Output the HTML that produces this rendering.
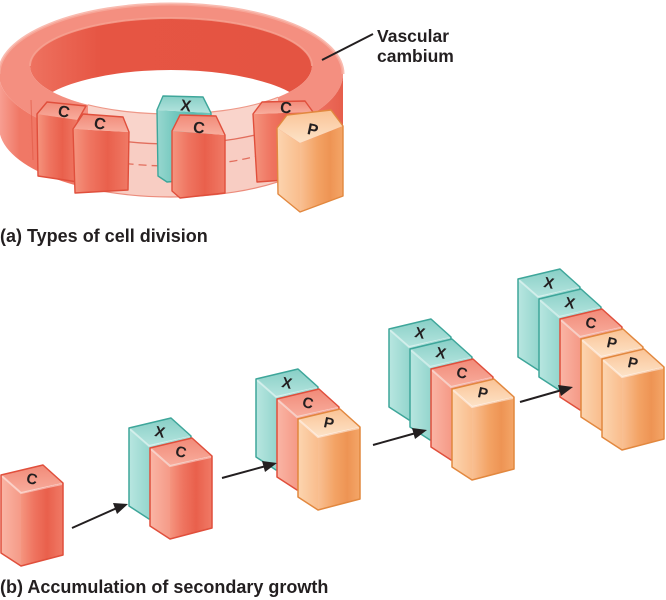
<!DOCTYPE html>
<html><head><meta charset="utf-8">
<style>
html,body{margin:0;padding:0;background:#fff;}
body{width:666px;height:600px;overflow:hidden;}
svg{display:block;}
text{font-family:"Liberation Sans",Arial,sans-serif;font-weight:bold;fill:#231f20;}
</style></head><body>
<svg width="666" height="600" viewBox="0 0 666 600" xmlns="http://www.w3.org/2000/svg">
<defs>
  <linearGradient id="sR" x1="0" y1="0" x2="1" y2="0">
    <stop offset="0" stop-color="#f5957f"/><stop offset=".3" stop-color="#ef7561"/>
    <stop offset=".62" stop-color="#e9604c"/><stop offset="1" stop-color="#f07a66"/>
  </linearGradient>
  <linearGradient id="sL" x1="0" y1="0" x2="1" y2="0">
    <stop offset="0" stop-color="#fab5a5"/><stop offset="1" stop-color="#f59a87"/>
  </linearGradient>
  <linearGradient id="sT" x1="0" y1="0" x2="0" y2="1">
    <stop offset="0" stop-color="#f18a78"/><stop offset="1" stop-color="#f8ad9d"/>
  </linearGradient>
  <linearGradient id="tR" x1="0" y1="0" x2="1" y2="0">
    <stop offset="0" stop-color="#98d7cf"/><stop offset=".4" stop-color="#6cc5bb"/>
    <stop offset=".7" stop-color="#5bbcb1"/><stop offset="1" stop-color="#70c6bc"/>
  </linearGradient>
  <linearGradient id="tL" x1="0" y1="0" x2="1" y2="0">
    <stop offset="0" stop-color="#b8e6e0"/><stop offset="1" stop-color="#95d6ce"/>
  </linearGradient>
  <linearGradient id="tT" x1="0" y1="0" x2="0" y2="1">
    <stop offset="0" stop-color="#88cfc6"/><stop offset="1" stop-color="#b4e4de"/>
  </linearGradient>
  <linearGradient id="oR" x1="0" y1="0" x2="1" y2="0">
    <stop offset="0" stop-color="#f9c093"/><stop offset=".4" stop-color="#f3a365"/>
    <stop offset=".7" stop-color="#ee9454"/><stop offset="1" stop-color="#f4a668"/>
  </linearGradient>
  <linearGradient id="oL" x1="0" y1="0" x2="1" y2="0">
    <stop offset="0" stop-color="#fcd5b0"/><stop offset="1" stop-color="#f9bd8d"/>
  </linearGradient>
  <linearGradient id="oT" x1="0" y1="0" x2="0" y2="1">
    <stop offset="0" stop-color="#fac395"/><stop offset="1" stop-color="#fde3c8"/>
  </linearGradient>
  <linearGradient id="wallG" x1="0" y1="0" x2="1" y2="0">
    <stop offset="0" stop-color="#f8a093"/><stop offset=".06" stop-color="#f07866"/>
    <stop offset=".5" stop-color="#ee6f5e"/><stop offset=".9" stop-color="#f07565"/>
    <stop offset="1" stop-color="#e65e4c"/>
  </linearGradient>
  <linearGradient id="innerG" x1="0" y1="0" x2="1" y2="0">
    <stop offset="0" stop-color="#ee7260"/><stop offset=".25" stop-color="#e65543"/>
    <stop offset="1" stop-color="#e45442"/>
  </linearGradient>
  <clipPath id="cInner"><ellipse cx="171" cy="66" rx="141" ry="48"/></clipPath>
  <clipPath id="cBand"><rect x="88" y="95" width="190" height="125"/></clipPath>

  <g id="bC">
    <path d="M0,0 L20,18 L20,91 L0,78 Z" fill="url(#sL)"/>
    <path d="M20,18 L62,8 L62,80 L20,91 Z" fill="url(#sR)"/>
    <path d="M0,0 L20,18 L62,8 L42,-10 Z" fill="url(#sT)"/>
    <path d="M1,1 L20,18 L61,9" fill="none" stroke="#fff" stroke-opacity=".45" stroke-width="2"/>
    <path d="M0,0 L42,-10 L62,8 L62,80 L20,91 L0,78 Z" fill="none" stroke="#e04f3c" stroke-width="1.5" stroke-linejoin="round"/>
  </g>
  <g id="bX">
    <path d="M0,0 L20,18 L20,91 L0,78 Z" fill="url(#tL)"/>
    <path d="M20,18 L62,8 L62,80 L20,91 Z" fill="url(#tR)"/>
    <path d="M0,0 L20,18 L62,8 L42,-10 Z" fill="url(#tT)"/>
    <path d="M1,1 L20,18 L61,9" fill="none" stroke="#fff" stroke-opacity=".45" stroke-width="2"/>
    <path d="M0,0 L42,-10 L62,8 L62,80 L20,91 L0,78 Z" fill="none" stroke="#3ea69a" stroke-width="1.5" stroke-linejoin="round"/>
  </g>
  <g id="bP">
    <path d="M0,0 L20,18 L20,91 L0,78 Z" fill="url(#oL)"/>
    <path d="M20,18 L62,8 L62,80 L20,91 Z" fill="url(#oR)"/>
    <path d="M0,0 L20,18 L62,8 L42,-10 Z" fill="url(#oT)"/>
    <path d="M1,1 L20,18 L61,9" fill="none" stroke="#fff" stroke-opacity=".5" stroke-width="2"/>
    <path d="M0,0 L42,-10 L62,8 L62,80 L20,91 L0,78 Z" fill="none" stroke="#e2883f" stroke-width="1.5" stroke-linejoin="round"/>
  </g>
</defs>

<!-- ===== (a) Ring ===== -->
<ellipse cx="171" cy="66" rx="141" ry="48" fill="url(#innerG)"/>
<ellipse cx="171" cy="118" rx="141" ry="48" fill="#fff" clip-path="url(#cInner)"/>
<path fill-rule="evenodd" fill="#f48f80" d="M-1,74 A172,70 0 1 0 343,74 A172,70 0 1 0 -1,74 Z M30,66 A141,48 0 1 0 312,66 A141,48 0 1 0 30,66 Z"/>
<path d="M-1,74 A172,70 0 0 1 343,74" fill="none" stroke="#f8ab9d" stroke-width="3" opacity=".8"/>
<path d="M30,66 A141,48 0 0 1 312,66" fill="none" stroke="#f6a292" stroke-width="2" opacity=".8"/>
<path d="M-1,74 A172,70 0 0 0 343,74 L343,127 A172,70 0 0 1 -1,127 Z" fill="url(#wallG)"/>
<path d="M31,100 L33,160" stroke="#e25a47" stroke-width="1.2" opacity=".6"/>

<!-- translucent band -->
<g clip-path="url(#cBand)">
  <path fill-rule="evenodd" fill="#f9d4cb" d="M-1,74 A172,70 0 1 0 343,74 A172,70 0 1 0 -1,74 Z M30,66 A141,48 0 1 0 312,66 A141,48 0 1 0 30,66 Z"/>
  <path d="M-1,74 A172,70 0 0 0 343,74 L343,127 A172,70 0 0 1 -1,127 Z" fill="#f8cdc3"/>
  <ellipse cx="171" cy="74" rx="172" ry="70" fill="none" stroke="#e26e5d" stroke-width="1.3"/>
  <ellipse cx="171" cy="118" rx="141" ry="48" fill="none" stroke="#e26e5d" stroke-width="1.3" stroke-dasharray="8,5"/>
  <ellipse cx="171" cy="127" rx="172" ry="70" fill="none" stroke="#ec8c7c" stroke-width="1.2"/>
  <ellipse cx="171" cy="66" rx="141" ry="48" fill="none" stroke="#ee9888" stroke-width="1.2"/>
</g>

<!-- ring cells -->
<g stroke-linejoin="round">
  <path d="M37,114 L78,120 L78,182 L38,176 Z" fill="url(#sR)"/>
  <path d="M37,114 L47,102 L86,106 L78,120 Z" fill="url(#sT)"/>
  <path d="M37,114 L47,102 L86,106 L78,120 L78,182 L38,176 Z" fill="none" stroke="#e04f3c" stroke-width="1.4"/>
  <text x="64" y="111" font-size="16" text-anchor="middle" dy="6" transform="rotate(12 64 111)">C</text>

  <path d="M73,129 L129,132 L128,190 L75,193 Z" fill="url(#sR)"/>
  <path d="M73,129 L83,114 L123,117 L129,132 Z" fill="url(#sT)"/>
  <path d="M73,129 L83,114 L123,117 L129,132 L128,190 L75,193 Z" fill="none" stroke="#e04f3c" stroke-width="1.4"/>
  <text x="100" y="123" font-size="16" text-anchor="middle" dy="6" transform="rotate(12 100 123)">C</text>

  <path d="M157,110 L211,113 L211,178 L167,182 L158,176 Z" fill="url(#tR)"/>
  <path d="M157,110 L163,96 L203,97 L211,113 Z" fill="url(#tT)"/>
  <path d="M157,110 L163,96 L203,97 L211,113 L211,178 L167,182 L158,176 Z" fill="none" stroke="#3ea69a" stroke-width="1.4"/>
  <text x="186" y="105" font-size="16" text-anchor="middle" dy="6" transform="rotate(8 186 105)">X</text>

  <path d="M172,131 L225,135 L225,193 L180,198 L172,191 Z" fill="url(#sR)"/>
  <path d="M172,131 L180,115 L216,116 L225,135 Z" fill="url(#sT)"/>
  <path d="M172,131 L180,115 L216,116 L225,135 L225,193 L180,198 L172,191 Z" fill="none" stroke="#e04f3c" stroke-width="1.4"/>
  <text x="199" y="127" font-size="16" text-anchor="middle" dy="6" transform="rotate(8 199 127)">C</text>

  <path d="M253,114 L313,112 L313,178 L257,182 Z" fill="url(#sR)"/>
  <path d="M253,114 L262,102 L305,101 L313,112 Z" fill="url(#sT)"/>
  <path d="M253,114 L262,102 L305,101 L313,112 L313,178 L257,182 Z" fill="none" stroke="#e04f3c" stroke-width="1.4"/>
  <text x="286" y="107" font-size="16" text-anchor="middle" dy="6" transform="rotate(8 286 107)">C</text>

  <path d="M277,128 L300,143 L300,212 L278,194 Z" fill="url(#oL)"/>
  <path d="M300,143 L343,126 L343,196 L300,212 Z" fill="url(#oR)"/>
  <path d="M277,128 L287,115 L331,110 L343,126 L300,143 Z" fill="url(#oT)"/>
  <path d="M277,128 L287,115 L331,110 L343,126 L343,196 L300,212 L278,194 Z" fill="none" stroke="#e2883f" stroke-width="1.4"/>
  <text x="313" y="129" font-size="16" text-anchor="middle" dy="6" transform="rotate(12 313 129)">P</text>
</g>

<!-- label -->
<path d="M322,60 L373,34" stroke="#231f20" stroke-width="2"/>
<text x="377" y="42" font-size="17.5">Vascular</text>
<text x="377" y="62" font-size="17.5">cambium</text>
<text x="0" y="242" font-size="18">(a) Types of cell division</text>

<!-- ===== (b) stacks ===== -->
<use href="#bC" x="1" y="475"/>
<text x="32" y="479" font-size="15" text-anchor="middle" dy="5" transform="rotate(12 32 479)">C</text>

<use href="#bX" x="129" y="428"/>
<text x="160" y="432" font-size="15" text-anchor="middle" dy="5" transform="rotate(12 160 432)">X</text>
<use href="#bC" x="150" y="448"/>
<text x="181" y="452" font-size="15" text-anchor="middle" dy="5" transform="rotate(12 181 452)">C</text>

<use href="#bX" x="256" y="379"/>
<text x="287" y="383" font-size="15" text-anchor="middle" dy="5" transform="rotate(12 287 383)">X</text>
<use href="#bC" x="277" y="399"/>
<text x="308" y="403" font-size="15" text-anchor="middle" dy="5" transform="rotate(12 308 403)">C</text>
<use href="#bP" x="298" y="419"/>
<text x="329" y="423" font-size="15" text-anchor="middle" dy="5" transform="rotate(12 329 423)">P</text>

<use href="#bX" x="389" y="329"/>
<text x="420" y="333" font-size="15" text-anchor="middle" dy="5" transform="rotate(12 420 333)">X</text>
<use href="#bX" x="410" y="349"/>
<text x="441" y="353" font-size="15" text-anchor="middle" dy="5" transform="rotate(12 441 353)">X</text>
<use href="#bC" x="431" y="369"/>
<text x="462" y="373" font-size="15" text-anchor="middle" dy="5" transform="rotate(12 462 373)">C</text>
<use href="#bP" x="452" y="389"/>
<text x="483" y="393" font-size="15" text-anchor="middle" dy="5" transform="rotate(12 483 393)">P</text>

<use href="#bX" x="518" y="279"/>
<text x="549" y="283" font-size="15" text-anchor="middle" dy="5" transform="rotate(12 549 283)">X</text>
<use href="#bX" x="539" y="299"/>
<text x="570" y="303" font-size="15" text-anchor="middle" dy="5" transform="rotate(12 570 303)">X</text>
<use href="#bC" x="560" y="319"/>
<text x="591" y="323" font-size="15" text-anchor="middle" dy="5" transform="rotate(12 591 323)">C</text>
<use href="#bP" x="581" y="339"/>
<text x="612" y="343" font-size="15" text-anchor="middle" dy="5" transform="rotate(12 612 343)">P</text>
<use href="#bP" x="602" y="359"/>
<text x="633" y="363" font-size="15" text-anchor="middle" dy="5" transform="rotate(12 633 363)">P</text>

<!-- arrows -->
<g stroke="#231f20" stroke-width="2" fill="#231f20">
  <line x1="72" y1="528" x2="117" y2="508"/>
  <polygon points="128,504 113,503 117,514" stroke="none"/>
  <line x1="222" y1="478" x2="266" y2="466"/>
  <polygon points="277,463 262,461 265,472" stroke="none"/>
  <line x1="373" y1="445" x2="416" y2="433"/>
  <polygon points="427,430 412,428 415,439" stroke="none"/>
  <line x1="520" y1="402" x2="562" y2="390"/>
  <polygon points="573,387 558,385 561,396" stroke="none"/>
</g>

<text x="0" y="593" font-size="18">(b) Accumulation of secondary growth</text>
</svg>
</body></html>
